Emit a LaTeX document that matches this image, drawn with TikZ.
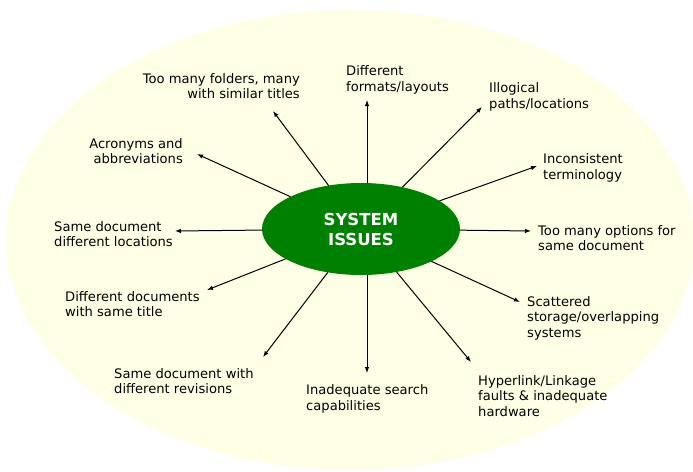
\documentclass[tikz,border=0pt]{standalone}
\usepackage{fontspec}
\setmainfont{DejaVu Sans}
\usetikzlibrary{arrows.meta,shapes.geometric}
\definecolor{paleyellow}{RGB}{255,255,229}
\definecolor{issuegreen}{RGB}{0,128,0}

\begin{document}
\begin{tikzpicture}[x=1pt,y=-1pt,line cap=round,line join=round,
    lbl/.style={inner sep=0pt,font=\fontsize{13.1}{15.5}\selectfont},
    arr/.style={-{Latex[length=6pt,width=4.5pt]},line width=1pt}]
  \useasboundingbox (0,0) rectangle (693,471);
  \fill[paleyellow] (350,240) ellipse [x radius=344, y radius=230];
  \node[ellipse,fill=issuegreen,minimum width=198pt,minimum height=92pt,inner sep=0pt,
        text=white,align=center,font=\bfseries\fontsize{16.5}{20}\selectfont]
        (issues) at (361,229) {SYSTEM\\ISSUES};
  % arrow ends
  \coordinate (folders-tip) at (273,111);
  \coordinate (acronyms-tip) at (197,154);
  \coordinate (locations-tip) at (175,231);
  \coordinate (sametitle-tip) at (207,290);
  \coordinate (revisions-tip) at (263,357);
  \coordinate (search-tip) at (367,373);
  \coordinate (hyperlink-tip) at (471,362);
  \coordinate (storage-tip) at (520,302);
  \coordinate (options-tip) at (531,231);
  \coordinate (terms-tip) at (537,166);
  \coordinate (paths-tip) at (482,107);
  \coordinate (formats-tip) at (367,100);
  \foreach \t in {folders,acronyms,locations,sametitle,revisions,
                  hyperlink,storage,options,terms,paths}
    \draw[arr] (issues) -- (\t-tip);
  % the two straight up/down ones
  \draw[arr] (issues.north -| formats-tip) -- (formats-tip);
  \draw[arr] (issues.south -| search-tip) -- (search-tip);
  % labels
  \node[lbl,anchor=east,align=right] (folders) at (300,86) {Too many folders, many\\with similar titles};
  \node[lbl,anchor=east,align=right] (acronyms) at (183,151) {Acronyms and\\abbreviations};
  \node[lbl,anchor=west,align=left] (locations) at (54,234) {Same document\\different locations};
  \node[lbl,anchor=west,align=left] (sametitle) at (65,304) {Different documents\\with same title};
  \node[lbl,anchor=west,align=left] (revisions) at (114,381) {Same document with\\different revisions};
  \node[lbl,anchor=west,align=left] (search) at (306,399) {Inadequate search\\capabilities};
  \node[lbl,anchor=west,align=left] (hyperlink) at (478,396) {Hyperlink/Linkage\\faults \& inadequate\\hardware};
  \node[lbl,anchor=west,align=left] (storage) at (527,318) {Scattered\\storage/overlapping\\systems};
  \node[lbl,anchor=west,align=left] (options) at (538,238) {Too many options for\\same document};
  \node[lbl,anchor=west,align=left] (terms) at (543,168) {Inconsistent\\terminology};
  \node[lbl,anchor=west,align=left] (paths) at (489,97) {Illogical\\paths/locations};
  \node[lbl,anchor=west,align=left] (formats) at (346,80) {Different\\formats/layouts};
\end{tikzpicture}
\end{document}
